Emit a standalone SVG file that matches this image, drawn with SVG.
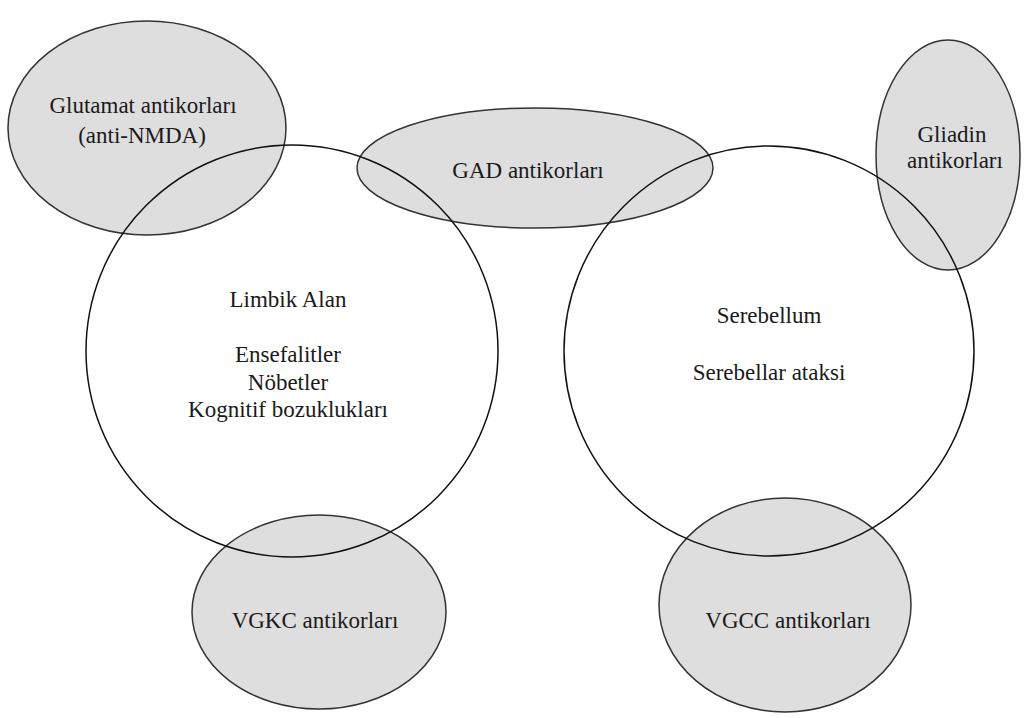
<svg xmlns="http://www.w3.org/2000/svg" width="1024" height="718" viewBox="0 0 1024 718">
<style>
.bg{fill:#ffffff}
.ab{fill:#dedede;stroke:#333;stroke-width:1.5}
.reg{fill:none;stroke:#111;stroke-width:1.5}
text{font-size:23px;fill:#1a1a1a;text-anchor:middle}
</style>
<rect class="bg" x="0" y="0" width="1024" height="718"/>
<g font-family="Liberation Serif, DejaVu Serif, serif">
<g id="glutamat">
<ellipse class="ab" cx="147" cy="128" rx="139" ry="107"/>
<text x="143" y="113">Glutamat antikorları</text>
<text x="142" y="143">(anti-NMDA)</text>
</g>
<g id="gad">
<ellipse class="ab" cx="535" cy="168" rx="178" ry="60"/>
<text x="528" y="178">GAD antikorları</text>
</g>
<g id="gliadin">
<ellipse class="ab" cx="948" cy="155" rx="72" ry="115"/>
<text x="952" y="142">Gliadin</text>
<text x="955" y="168">antikorları</text>
</g>
<g id="vgkc">
<ellipse class="ab" cx="319" cy="612" rx="127" ry="97"/>
<text x="315" y="628">VGKC antikorları</text>
</g>
<g id="vgcc">
<ellipse class="ab" cx="785" cy="605" rx="126" ry="107"/>
<text x="788" y="628">VGCC antikorları</text>
</g>
<g id="limbik">
<circle class="reg" cx="292" cy="351" r="206"/>
<text x="288" y="307">Limbik Alan</text>
<text x="288" y="362">Ensefalitler</text>
<text x="288" y="390">Nöbetler</text>
<text x="288" y="417">Kognitif bozuklukları</text>
</g>
<g id="serebellum">
<circle class="reg" cx="769" cy="351" r="205"/>
<text x="769" y="323">Serebellum</text>
<text x="769" y="380">Serebellar ataksi</text>
</g>
</g>
<g id="connectors"></g>
</svg>
